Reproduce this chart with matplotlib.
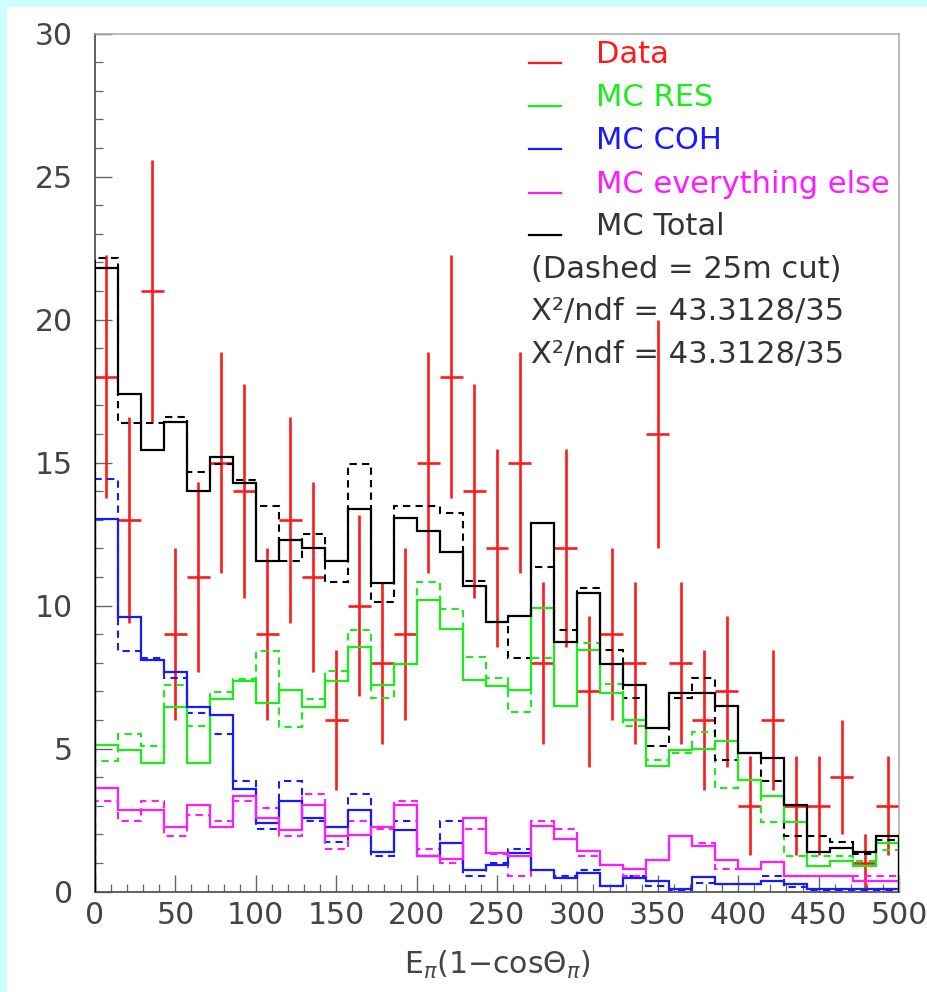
import numpy as np
import matplotlib
matplotlib.use("Agg")
import matplotlib.pyplot as plt
from matplotlib.lines import Line2D
from matplotlib.patches import Rectangle
from matplotlib.ticker import MultipleLocator

plt.rcParams["font.family"] = ["DejaVu Sans"]

# Binning of E_pi(1 - cos theta_pi)
E_MIN, E_MAX, N_BINS = 0.0, 500.0, 35

# Observed counts per bin
data_counts = [18, 13, 21, 9, 11, 15, 14, 9, 13, 11, 6, 10, 8, 9, 15, 18, 14, 12,
               15, 8, 12, 7, 9, 8, 16, 8, 6, 7, 3, 6, 3, 3, 4, 1, 3]

# MC predictions (solid = nominal, dashed = 25m cut)
mc_total = [21.8, 17.4, 15.45, 16.4, 14.0, 15.2, 14.3, 11.55, 12.3, 12.0, 11.55, 13.37,
            10.8, 13.06, 12.6, 11.86, 10.68, 9.42, 9.62, 12.9, 8.72, 10.44, 7.94, 7.23,
            5.71, 6.94, 6.94, 6.48, 4.85, 4.67, 3.02, 1.38, 1.53, 1.38, 1.94]
mc_total_cut = [22.15, 16.37, 16.37, 16.6, 14.68, 14.95, 14.4, 13.47, 11.56, 12.5, 10.83, 14.96,
                10.11, 13.49, 13.49, 13.25, 10.84, 9.44, 8.18, 11.33, 9.15, 10.61, 8.43, 6.76,
                5.09, 6.76, 7.46, 4.6, 4.86, 3.88, 1.94, 1.93, 1.74, 1.3, 1.8]

mc_res = [5.11, 4.94, 4.49, 6.45, 4.49, 6.74, 7.36, 6.59, 7.06, 6.45, 7.36, 8.56,
          7.23, 7.95, 10.2, 9.18, 7.38, 7.2, 7.05, 9.9, 6.49, 8.44, 6.93, 6.0,
          4.38, 4.94, 4.97, 5.27, 3.9, 3.33, 2.43, 0.9, 1.05, 0.9, 1.69]
mc_res_cut = [4.56, 5.52, 5.08, 7.21, 5.78, 6.98, 7.44, 8.41, 5.75, 6.74, 7.71, 9.14,
              6.78, 7.95, 10.82, 9.89, 8.2, 7.48, 6.27, 8.18, 6.49, 8.68, 7.24, 5.8,
              4.6, 4.83, 5.56, 3.62, 3.9, 2.44, 1.23, 1.23, 1.23, 1.05, 1.46]

mc_coh = [13.04, 9.6, 8.11, 7.68, 6.45, 6.16, 3.6, 2.38, 3.18, 2.56, 2.25, 2.86,
          1.37, 2.14, 1.23, 1.69, 0.76, 0.93, 1.34, 0.76, 0.47, 0.64, 0.2, 0.47,
          0.35, 0.08, 0.5, 0.27, 0.27, 0.35, 0.27, 0.08, 0.08, 0.08, 0.08]
mc_coh_cut = [14.44, 8.41, 8.18, 7.48, 6.24, 5.52, 3.85, 2.18, 3.85, 2.45, 1.72, 3.42,
              1.23, 2.45, 1.23, 2.45, 0.53, 0.99, 1.48, 0.76, 0.53, 0.76, 0.2, 0.53,
              0.2, 0.05, 0.29, 0.27, 0.27, 0.53, 0.15, 0.05, 0.05, 0.05, 0.05]

mc_other = [3.62, 2.86, 2.86, 2.25, 3.03, 2.25, 3.33, 2.57, 2.14, 3.03, 1.95, 1.96,
            2.25, 3.03, 1.23, 1.13, 2.57, 1.34, 1.23, 2.3, 1.83, 1.4, 0.93, 0.79,
            1.09, 1.95, 1.6, 1.09, 0.78, 1.02, 0.53, 0.53, 0.53, 0.35, 0.35]
mc_other_cut = [3.15, 2.45, 3.15, 1.93, 2.68, 2.45, 3.15, 2.92, 1.93, 3.42, 1.48, 2.45,
                2.18, 3.15, 1.48, 0.99, 2.18, 1.3, 0.53, 2.45, 2.18, 1.23, 0.93, 0.53,
                1.09, 1.95, 1.69, 0.78, 0.78, 1.02, 0.53, 0.53, 0.53, 0.53, 0.53]

legend_labels = ["Data", "MC RES", "MC COH", "MC everything else", "MC Total"]
note_lines = ["(Dashed = 25m cut)", "X\u00b2/ndf = 43.3128/35", "X\u00b2/ndf = 43.3128/35"]

RED = "#ff1a1a"
GREEN = "#1aee1a"
BLUE = "#1a1aff"
MAGENTA = "#ff1aff"
BLACK = "#000000"
TEXT = "#333333"

W, H = 928, 992
fig = plt.figure(figsize=(W / 100, H / 100), dpi=100)
fig.patch.set_facecolor("white")

# light cyan page margin on the left and top
fig.patches.append(Rectangle((0, 0), 7 / W, 1, transform=fig.transFigure,
                             facecolor="#ccffff", edgecolor="none", zorder=0))
fig.patches.append(Rectangle((0, 1 - 7 / H), 1, 7 / H, transform=fig.transFigure,
                             facecolor="#ccffff", edgecolor="none", zorder=0))

ax_l, ax_r, ax_b, ax_t = 95, 899, 891.5, 33.5
ax = fig.add_axes([ax_l / W, 1 - ax_b / H, (ax_r - ax_l) / W, (ax_b - ax_t) / H])

edges = np.linspace(E_MIN, E_MAX, N_BINS + 1)
centers = 0.5 * (edges[:-1] + edges[1:])
half_w = 0.5 * (edges[1] - edges[0])
counts = np.array(data_counts, dtype=float)

ax.errorbar(centers, counts, xerr=half_w, yerr=np.sqrt(counts), fmt="none",
            ecolor=RED, elinewidth=1.9, capsize=0, zorder=2)

dash = (0, (3.5, 2.5))
series = [
    (mc_res, mc_res_cut, GREEN),
    (mc_coh, mc_coh_cut, BLUE),
    (mc_other, mc_other_cut, MAGENTA),
    (mc_total, mc_total_cut, BLACK),
]
for solid, cut, col in series:
    ax.stairs(cut, edges, baseline=0, color=col, lw=1.5, linestyle=dash, zorder=3)
    ax.stairs(solid, edges, baseline=0, color=col, lw=1.6, zorder=4)

ax.set_xlim(E_MIN, E_MAX)
ax.set_ylim(0, 30)
ax.xaxis.set_major_locator(MultipleLocator(50))
ax.xaxis.set_minor_locator(MultipleLocator(10))
ax.yaxis.set_major_locator(MultipleLocator(5))
ax.yaxis.set_minor_locator(MultipleLocator(1))
ax.tick_params(which="both", direction="in", colors="#666666", labelcolor="#444444",
               labelsize=21.5, top=False, right=False)
ax.tick_params(which="major", length=12, width=1.0)
ax.tick_params(which="minor", length=6, width=0.9)
ax.tick_params(axis="y", pad=16)
ax.tick_params(axis="x", pad=7)

for side in ("left", "bottom"):
    ax.spines[side].set_color("#555555")
    ax.spines[side].set_linewidth(1.3)
for side in ("top", "right"):
    ax.spines[side].set_color("#aaaaaa")
    ax.spines[side].set_linewidth(1.1)

fig.text(497 / W, 1 - 965 / H, r"E$_{\pi}$(1$-$cos$\Theta_{\pi}$)", ha="center", va="center",
         fontsize=21.5, color="#444444")

# legend block
legend_colors = [RED, GREEN, BLUE, MAGENTA, TEXT]
legend_baselines = [63, 106, 149, 193, 235]
for lab, col, yb in zip(legend_labels, legend_colors, legend_baselines):
    fig.add_artist(Line2D([529 / W, 561 / W], [1 - yb / H, 1 - yb / H],
                          transform=fig.transFigure, color=col if col != TEXT else BLACK, lw=1.6))
    fig.text(596 / W, 1 - yb / H, lab, ha="left", va="baseline", fontsize=22, color=col)

for txt, yb in zip(note_lines, [278, 320, 363]):
    fig.text(531 / W, 1 - yb / H, txt, ha="left", va="baseline", fontsize=22, color=TEXT)

fig.savefig("out.png", dpi=100)
